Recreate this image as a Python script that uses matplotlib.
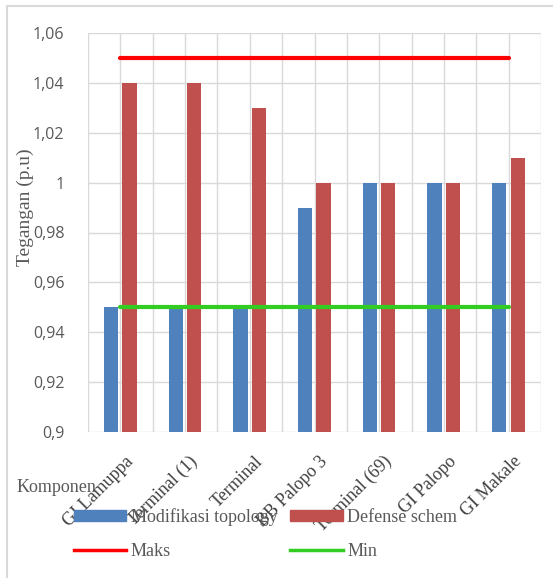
import matplotlib
matplotlib.use('Agg')
import matplotlib.pyplot as plt
from matplotlib.patches import Patch, Rectangle
from matplotlib.lines import Line2D
from matplotlib.transforms import ScaledTranslation
import numpy as np

komponen = ['GI Lamuppa', 'Terminal (1)', 'Terminal', 'BB Palopo 3',
            'Terminal (69)', 'GI Palopo', 'GI Makale']
modifikasi = [0.95, 0.95, 0.95, 0.99, 1.00, 1.00, 1.00]
defense = [1.04, 1.04, 1.03, 1.00, 1.00, 1.00, 1.01]
maks = [1.05] * 7
minimum = [0.95] * 7
yticks = [0.9, 0.92, 0.94, 0.96, 0.98, 1.0, 1.02, 1.04, 1.06]

blue = '#4f81bd'
red = '#c0504d'
grid = '#d9d9d9'
txt = '#595959'
serif = ['Liberation Serif', 'DejaVu Serif']

fig = plt.figure(figsize=(5.53, 5.78), dpi=100)
ax = fig.add_axes([88/553, 1-432/578, (541-88)/553, (432-33)/578])

x = np.arange(len(komponen))
w = 0.22
ax.bar(x - 0.145, modifikasi, w, color=blue, zorder=3)
ax.bar(x + 0.14, defense, w, color=red, zorder=3)
ax.plot(x, maks, color='#ff0000', lw=3, solid_capstyle='round', zorder=4)
ax.plot(x, minimum, color='#33cc22', lw=3, solid_capstyle='round', zorder=4)

ax.set_xlim(-0.5, len(komponen) - 0.5)
ax.set_ylim(0.9, 1.06)
ax.set_yticks(yticks)
ax.set_yticklabels(['{:g}'.format(v).replace('.', ',') for v in yticks],
                   family='Open Sans', fontsize=11.5, color=txt)
ax.set_xticks(x)
ax.set_xticks(np.arange(len(komponen) + 1) - 0.5, minor=True)
ax.set_xticklabels(komponen, rotation=45, ha='right', va='top',
                   rotation_mode='anchor', family=serif, fontsize=13, color='#404040')
ax.tick_params(axis='both', which='both', length=0)
ax.tick_params(axis='x', pad=15)
ax.tick_params(axis='y', pad=17)
shift = ScaledTranslation(4/100, 0, fig.dpi_scale_trans)
for lbl in ax.get_xticklabels():
    lbl.set_transform(lbl.get_transform() + shift)
ax.grid(True, which='both', color=grid, lw=1, zorder=0)
for s in ax.spines.values():
    s.set_visible(False)

fig.text(25/553, 1-207/578, 'Tegangan (p.u)', rotation=90, ha='center', va='center',
         family=serif, fontsize=14, color=txt)
fig.text(17/553, 1-487/578, 'Komponen', ha='left', va='center',
         family=serif, fontsize=13, color=txt)

handles = [Patch(color=blue), Line2D([], [], color='#ff0000', lw=2.5),
           Patch(color=red), Line2D([], [], color='#33cc22', lw=2.5)]
labels = ['Modifikasi topology', 'Maks', 'Defense schem', 'Min']
leg = fig.legend(handles, labels, ncol=2, loc='upper left',
                 bbox_to_anchor=(65/553, 1-499/578), frameon=False,
                 borderpad=0, handlelength=2.9, handleheight=0.55,
                 handletextpad=0.25, columnspacing=0.7, labelspacing=0.95,
                 prop={'family': serif, 'size': 13})
for t in leg.get_texts():
    t.set_color(txt)

# outer chart frame (only top and left show)
fig.patches.append(Rectangle((7/553, -0.05), 1.1, 1-6/578 + 0.05,
                             transform=fig.transFigure, fill=False,
                             edgecolor=grid, lw=1.5))

fig.savefig('out.png', dpi=100)
